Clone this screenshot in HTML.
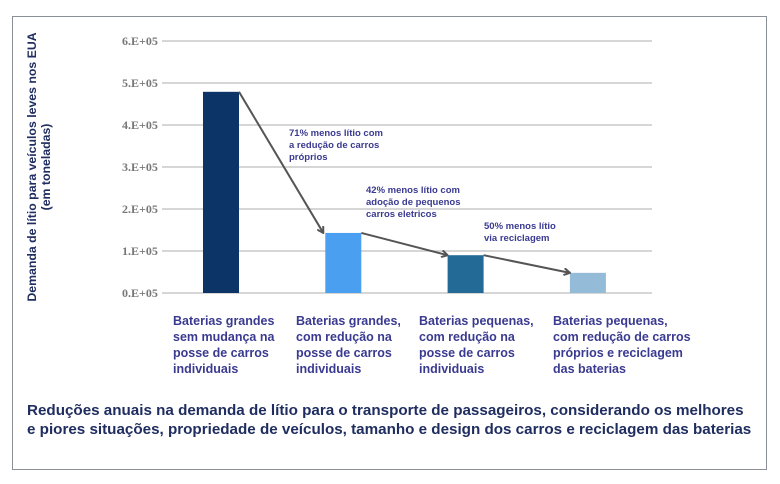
<!DOCTYPE html>
<html><head><meta charset="utf-8"><style>
body{margin:0;background:#fff;}
#wrap{position:relative;width:780px;height:484px;overflow:hidden;font-family:"Liberation Sans",sans-serif;}
#frame{position:absolute;left:12px;top:16px;width:755px;height:454px;border:1px solid #8a8f98;box-sizing:border-box;}
.cat{position:absolute;top:313px;font-size:12.5px;line-height:16px;color:#3a3a90;font-weight:bold;}
.foot{position:absolute;left:27px;top:401px;font-size:15.2px;line-height:19px;color:#1f2d60;font-weight:bold;white-space:nowrap;}
</style></head><body>
<div id="wrap">
<div id="frame"></div>
<svg id="chart" width="780" height="484" style="position:absolute;left:0;top:0"></svg>
<div class="cat" style="left:173px">Baterias grandes<br>sem mudança na<br>posse de carros<br>individuais</div>
<div class="cat" style="left:296px">Baterias grandes,<br>com redução na<br>posse de carros<br>individuais</div>
<div class="cat" style="left:419px">Baterias pequenas,<br>com redução na<br>posse de carros<br>individuais</div>
<div class="cat" style="left:553px">Baterias pequenas,<br>com redução de carros<br>próprios e reciclagem<br>das baterias</div>
<div class="foot">Reduções anuais na demanda de lítio para o transporte de passageiros, considerando os melhores<br>e piores situações, propriedade de veículos, tamanho e design dos carros e reciclagem das baterias</div>
</div>
<script>
const categories=["Baterias grandes sem mudança","Baterias grandes com redução","Baterias pequenas com redução","Baterias pequenas com reciclagem"];
const values=[479000,143000,90000,48000];
const colors=["#0d3466","#4a9ff0","#236b96","#94bcd8"];
const ticks=[0,100000,200000,300000,400000,500000,600000];
const tickLabels=["0.E+05","1.E+05","2.E+05","3.E+05","4.E+05","5.E+05","6.E+05"];
const annotations=[["71% menos lítio com","a redução de carros","próprios"],["42% menos lítio com","adoção de pequenos","carros eletricos"],["50% menos lítio","via reciclagem"]];

const NS="http://www.w3.org/2000/svg";
const svg=document.getElementById('chart');
const y0=293,pxPer=42/100000;
function yS(v){return y0-v*pxPer;}
function xS(i){return 203+i*122.3;}
const bw=36;
function mk(t,a){const e=document.createElementNS(NS,t);for(const k in a)e.setAttribute(k,a[k]);svg.appendChild(e);return e;}
const defs=mk('defs',{});
const mkr=document.createElementNS(NS,'marker');
mkr.setAttribute('id','ah');mkr.setAttribute('markerWidth','8');mkr.setAttribute('markerHeight','8');mkr.setAttribute('refX','7');mkr.setAttribute('refY','4');mkr.setAttribute('orient','auto');mkr.setAttribute('markerUnits','userSpaceOnUse');
const mp=document.createElementNS(NS,'path');mp.setAttribute('d','M1,0.5 L7,4 L1,7.5');mp.setAttribute('fill','none');mp.setAttribute('stroke','#555');mp.setAttribute('stroke-width','2');
mkr.appendChild(mp);defs.appendChild(mkr);
ticks.forEach((t,i)=>{
 const l=mk('line',{x1:162,x2:652,y1:yS(t),y2:yS(t),stroke:'#c8c8c8','stroke-width':1.5});
 
 
 const tx=mk('text',{x:122,y:yS(t)+4,'font-family':'Liberation Serif, serif','font-size':12,fill:'#777','font-weight':'bold'});
 tx.textContent=tickLabels[i];
 
 
});
values.forEach((v,i)=>{
 const r=mk('rect',{x:xS(i),y:yS(v),width:bw,height:y0-yS(v),fill:colors[i]});
 
 
});
for(let i=0;i<values.length-1;i++){
 const l=mk('line',{x1:xS(i)+bw,y1:yS(values[i]),x2:xS(i+1)-(i==0?2:0),y2:yS(values[i+1]),stroke:'#555','stroke-width':2,'marker-end':'url(#ah)'});
 
 
}
const annPos=[[289,136],[366,193],[484,229]];
annotations.forEach((lines,i)=>{
 const t=mk('text',{x:annPos[i][0],y:annPos[i][1],'font-size':9.5,fill:'#3a3a90','font-weight':'bold'});
 lines.forEach((s,j)=>{const ts=document.createElementNS(NS,'tspan');ts.setAttribute('x',annPos[i][0]);ts.setAttribute('dy',j?12:0);ts.textContent=s;t.appendChild(ts);});
 
 
});
const yt=mk('text',{transform:'translate(36,167) rotate(-90)','text-anchor':'middle','font-size':12.3,fill:'#1f2d60','font-weight':'bold'});
const a1=document.createElementNS(NS,'tspan');a1.setAttribute('x',0);a1.textContent='Demanda de lítio para veículos leves nos EUA';yt.appendChild(a1);
const a2=document.createElementNS(NS,'tspan');a2.setAttribute('x',0);a2.setAttribute('dy',14);a2.textContent='(em toneladas)';yt.appendChild(a2);


</script>
</body></html>
